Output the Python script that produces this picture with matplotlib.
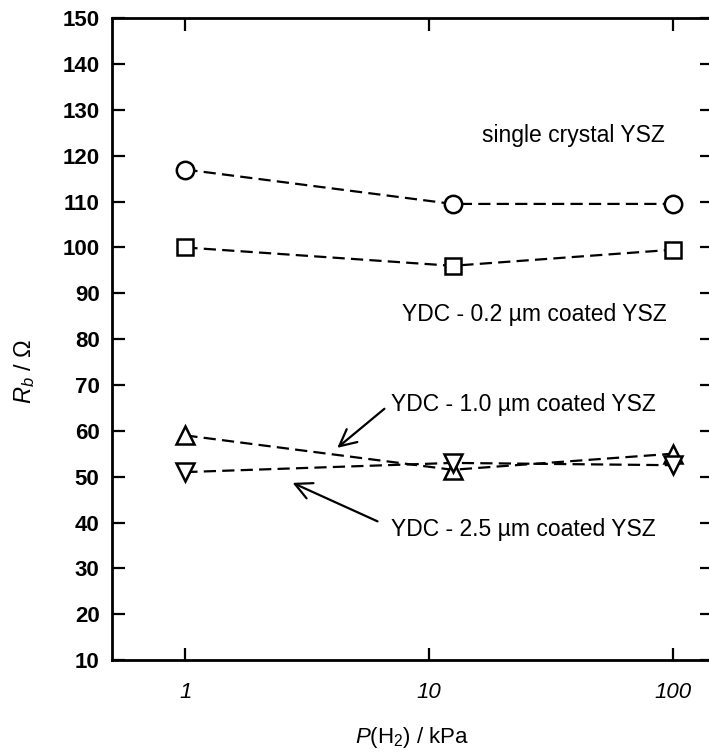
import matplotlib
matplotlib.use('Agg')
import matplotlib.pyplot as plt
import numpy as np

plt.rcParams['font.family'] = ['Liberation Sans', 'DejaVu Sans']
plt.rcParams['mathtext.fontset'] = 'custom'
plt.rcParams['mathtext.rm'] = 'Liberation Sans'
plt.rcParams['mathtext.it'] = 'Liberation Sans:italic'

# hydrogen partial pressure / kPa
p_h2 = [1, 12.5, 100]

# bulk resistance R_b / ohm
single_crystal = [117, 109.5, 109.5]
ydc_02 = [100, 96, 99.5]
ydc_10 = [59, 51.5, 55]
ydc_25 = [51, 53, 52.5]

series = [
    (single_crystal, 'o', 12.5),
    (ydc_02, 's', 11.5),
    (ydc_10, '^', 13),
    (ydc_25, 'v', 13),
]

fig = plt.figure(figsize=(7.09, 7.55), dpi=100)
ax = fig.add_axes([0.158, 0.1258, 0.846, 0.850])

for vals, mk, ms in series:
    ax.plot(p_h2, vals, color='black', lw=1.6, dashes=[5.5, 2.8],
            marker=mk, ms=ms, mfc='white', mec='black', mew=1.8)

ax.set_xscale('log')
ax.set_xlim(0.5, 145)
ax.set_ylim(10, 150)
ax.set_xticks([1, 10, 100])
ax.set_xticklabels(['1', '10', '100'], fontsize=16, style='italic')
ax.xaxis.set_minor_locator(matplotlib.ticker.NullLocator())
ax.set_yticks(np.arange(10, 151, 10))
ax.set_yticklabels([str(v) for v in range(10, 151, 10)], fontsize=16, fontweight='bold')

ax.tick_params(direction='in', length=9, width=1.6, top=True, right=True)
ax.tick_params(axis='x', pad=16)
ax.tick_params(axis='y', pad=9)
for s in ax.spines.values():
    s.set_linewidth(2.0)

ax.set_xlabel(r'$P$(H$_2$) / kPa', fontsize=16, labelpad=16)
ax.set_ylabel(r'$R_b$ / Ω', fontsize=17)
ax.yaxis.set_label_coords(-0.125, 0.45)

ax.text(93, 124.5, 'single crystal YSZ', fontsize=16.5, ha='right', va='center')
ax.text(95, 85.3, 'YDC - 0.2 µm coated YSZ', fontsize=16.5, ha='right', va='center')
ax.text(7.0, 65.7, 'YDC - 1.0 µm coated YSZ', fontsize=16.5, ha='left', va='center')
ax.text(7.0, 38.5, 'YDC - 2.5 µm coated YSZ', fontsize=16.5, ha='left', va='center')

arrow = dict(arrowstyle='->', color='black', lw=1.6, mutation_scale=30)
ax.annotate('', xy=(4.12, 55.9), xytext=(6.7, 65.2), arrowprops=arrow)
ax.annotate('', xy=(2.69, 48.9), xytext=(6.3, 40.0), arrowprops=arrow)

fig.savefig('out.png', dpi=100)
